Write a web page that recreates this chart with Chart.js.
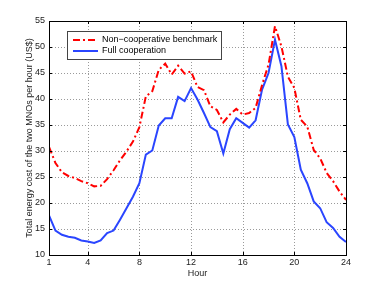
<!DOCTYPE html>
<html><head><meta charset="utf-8">
<script src="https://cdn.jsdelivr.net/npm/chart.js@4/dist/chart.umd.min.js"></script>
<style>html,body{margin:0;padding:0;background:#fff;}#wrap{width:382px;height:287px;}</style>
</head><body><div id="wrap"><canvas id="c" width="382" height="287"></canvas></div>
<script>
const hours = [1,1.5,2,2.5,3,3.5,4,4.5,5,5.5,6,6.5,7,7.5,8,8.5,9,9.5,10,10.5,11,11.5,12,12.5,13,13.5,14,14.5,15,15.5,16,16.5,17,17.5,18,18.5,19,19.5,20,20.5,21,21.5,22,22.5,23,23.5,24];
const nonCoop = [30.8,27.7,25.9,25.2,24.8,24.2,23.8,23.2,23.3,24.6,26.3,28.2,29.9,31.8,34.6,40.5,41.5,45.6,46.8,44.7,46.4,44.9,45.3,42.3,41.7,38.6,37.9,35.5,37.0,38.1,37.0,37.3,38.3,42.7,46.6,54.0,50.1,44.3,42.1,36.0,34.7,30.2,28.6,25.8,24.2,22.2,20.6];
const fullCoop = [17.6,14.7,13.9,13.5,13.3,12.8,12.6,12.3,12.8,14.2,14.7,16.8,19.0,21.2,23.8,29.3,30.1,34.9,36.3,36.3,40.4,39.6,42.1,39.9,37.3,34.6,33.8,29.5,34.2,36.3,35.4,34.5,35.9,41.8,45.0,51.4,46.3,35.1,32.7,26.4,23.8,20.3,19.0,16.3,15.2,13.5,12.5];
const xTicks = [1,4,8,12,16,20,24];
const seriesLabels = ['Non\u2212cooperative benchmark','Full cooperation'];
const xTitle = 'Hour';
const yTitle = 'Total energy cost of the two MNOs per hour (US$)';

const FONT = "'Liberation Sans', Arial, sans-serif";
const frame = {
  id:'frame',
  beforeDatasetsDraw(chart){
    const {ctx, chartArea:a} = chart;
    const xs = chart.scales.x, ys = chart.scales.y;
    ctx.save();
    ctx.strokeStyle='#9a9a9a'; ctx.lineWidth=1; ctx.setLineDash([1,2]);
    ctx.beginPath();
    xTicks.forEach(v=>{const p=Math.round(xs.getPixelForValue(v))+0.5; ctx.moveTo(p,a.bottom); ctx.lineTo(p,a.top);});
    ys.ticks.forEach(t=>{const p=Math.round(ys.getPixelForValue(t.value))+0.5; ctx.moveTo(a.left,p); ctx.lineTo(a.right,p);});
    ctx.stroke();
    ctx.restore();
  },
  afterDraw(chart){
    const {ctx, chartArea:a} = chart;
    ctx.save();
    ctx.strokeStyle='#000'; ctx.lineWidth=1;
    ctx.strokeRect(Math.round(a.left)+0.5, Math.round(a.top)+0.5, Math.round(a.right-a.left), Math.round(a.bottom-a.top));
    const xs = chart.scales.x, ys = chart.scales.y;
    ctx.beginPath();
    xTicks.forEach(v=>{const p=Math.round(xs.getPixelForValue(v))+0.5; ctx.moveTo(p,a.bottom); ctx.lineTo(p,a.bottom-3); ctx.moveTo(p,a.top); ctx.lineTo(p,a.top+3);});
    ys.ticks.forEach(t=>{const p=Math.round(ys.getPixelForValue(t.value))+0.5; ctx.moveTo(a.left,p); ctx.lineTo(a.left+3,p); ctx.moveTo(a.right,p); ctx.lineTo(a.right-3,p);});
    ctx.stroke();
    const bx=67, by=31, bw=154, bh=28;
    ctx.fillStyle='#fff'; ctx.fillRect(bx,by,bw,bh);
    ctx.strokeStyle='#444'; ctx.lineWidth=1; ctx.strokeRect(bx+0.5,by+0.5,bw,bh);
    ctx.font="9px "+FONT; ctx.textBaseline='middle'; ctx.fillStyle='#000';
    chart.data.datasets.forEach((ds,i)=>{
      const y = by+9+i*11;
      ctx.beginPath(); ctx.strokeStyle=ds.borderColor; ctx.lineWidth=ds.borderWidth;
      ctx.setLineDash(ds.borderDash||[]);
      ctx.moveTo(bx+6,y); ctx.lineTo(bx+31,y); ctx.stroke();
      ctx.setLineDash([]);
      ctx.fillText(ds.label, bx+35, y);
    });
    ctx.restore();
  }
};

new Chart(document.getElementById('c'), {
  type:'line',
  data:{
    datasets:[
      {label:seriesLabels[0], data:hours.map((h,i)=>({x:h,y:nonCoop[i]})), borderColor:'#ff0000', borderWidth:2, borderDash:[7,3,2,3], pointRadius:0, fill:false, tension:0},
      {label:seriesLabels[1], data:hours.map((h,i)=>({x:h,y:fullCoop[i]})), borderColor:'#2a45ff', borderWidth:2, pointRadius:0, fill:false, tension:0}
    ]
  },
  options:{
    responsive:false, animation:false,
    layout:{padding:{left:0,right:36,top:21,bottom:0}},
    plugins:{legend:{display:false}, tooltip:{enabled:false}},
    scales:{
      x:{type:'linear', min:1, max:24,
        afterBuildTicks(s){ s.ticks = xTicks.map(v=>({value:v})); },
        afterFit(s){ s.height=32; },
        ticks:{font:{family:FONT,size:9}, color:'#222', padding:2, maxRotation:0, autoSkip:false},
        grid:{display:false, drawTicks:false, tickLength:0},
        border:{display:false},
        title:{display:true, text:xTitle, font:{family:FONT,size:9}, color:'#222', padding:{top:1,bottom:8}}
      },
      y:{min:10, max:55,
        afterFit(s){ s.width=49; },
        ticks:{stepSize:5, font:{family:FONT,size:9}, color:'#222', padding:4},
        grid:{display:false, drawTicks:false, tickLength:0},
        border:{display:false},
        title:{display:true, text:yTitle, font:{family:FONT,size:9}, color:'#222', padding:{top:24,bottom:0}}
      }
    }
  },
  plugins:[frame]
});
</script></body></html>
